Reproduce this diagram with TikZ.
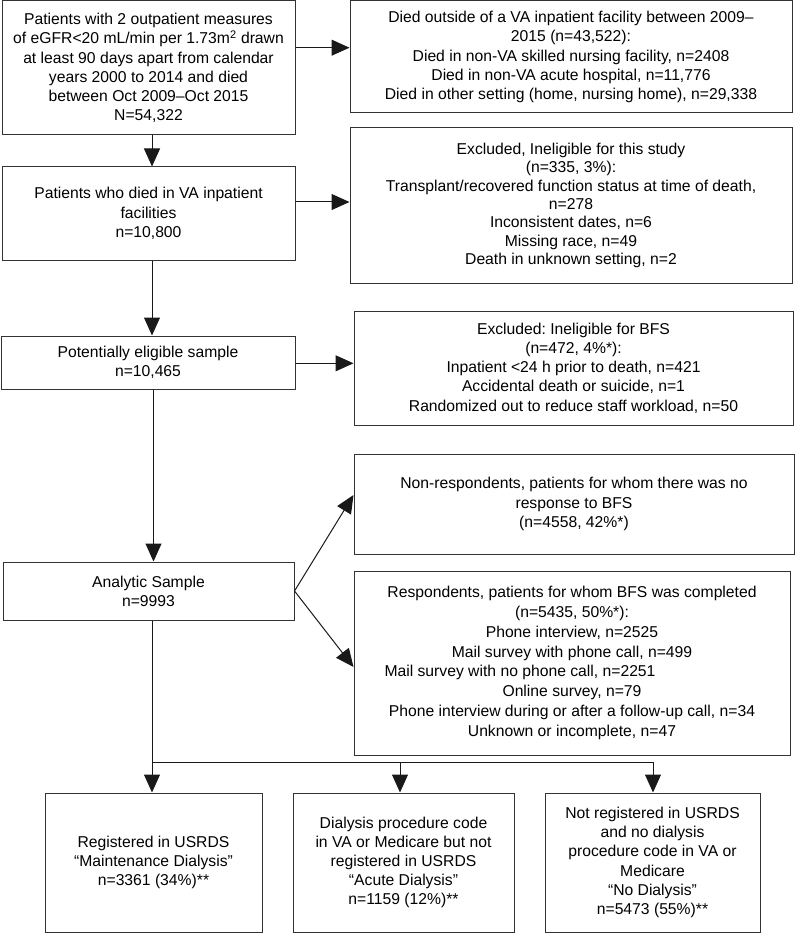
\documentclass[tikz,border=0pt]{standalone}
\usepackage{fontspec}
\setmainfont{Liberation Sans}
\usetikzlibrary{arrows.meta}
\begin{document}
\frenchspacing
\begin{tikzpicture}[x=1pt,y=-1pt,
  box/.style={draw=black!80, line width=1pt, align=center, inner sep=0pt,
    font=\fontsize{15.7}{19.2}\selectfont},
  arr/.style={draw=black!90, line width=1pt, -{Triangle[length=18pt,width=16pt]}},
  ln/.style={draw=black!90, line width=1pt}]
\useasboundingbox (0,0) rectangle (796,933);

\node[box, minimum width=293pt, minimum height=134pt] (A) at (148.5,68)
  {Patients with 2 outpatient measures\\
   of eGFR<20 mL/min per 1.73m\textsuperscript{2} drawn\\
   at least 90 days apart from calendar\\
   years 2000 to 2014 and died\\
   between Oct 2009–Oct 2015\\
   N=54,322};

\node[box, minimum width=442pt, minimum height=112pt] (B) at (571,57)
  {Died outside of a VA inpatient facility between 2009–\\
   2015 (n=43,522):\\
   Died in non-VA skilled nursing facility, n=2408\\
   Died in non-VA acute hospital, n=11,776\\
   Died in other setting (home, nursing home), n=29,338};

\node[box, minimum width=293pt, minimum height=93pt] (C) at (148.5,213.5)
  {Patients who died in VA inpatient\\
   facilities\\
   n=10,800};

\node[box, minimum width=442pt, minimum height=155pt,
      font=\fontsize{15.7}{18.4}\selectfont] (D) at (571,205.5)
  {Excluded, Ineligible for this study\\
   (n=335, 3\%):\\
   Transplant/recovered function status at time of death,\\
   n=278\\
   Inconsistent dates, n=6\\
   Missing race, n=49\\
   Death in unknown setting, n=2};

\node[box, minimum width=294pt, minimum height=53pt] (E) at (148,362.5)
  {Potentially eligible sample\\
   n=10,465};

\node[box, minimum width=439pt, minimum height=114pt] (F) at (573.5,368)
  {Excluded: Ineligible for BFS\\
   (n=472, 4\%*):\\
   Inpatient <24 h prior to death, n=421\\
   Accidental death or suicide, n=1\\
   Randomized out to reduce staff workload, n=50};

\node[box, minimum width=440pt, minimum height=100pt] (G) at (574,504)
  {Non-respondents, patients for whom there was no\\
   response to BFS\\
   (n=4558, 42\%*)};

\node[box, minimum width=291pt, minimum height=58pt] (H) at (148.5,591)
  {Analytic Sample\\
   n=9993};

\node[box, minimum width=436pt, minimum height=184pt,
      font=\fontsize{15.7}{19.8}\selectfont] (I) at (572,663)
  {Respondents, patients for whom BFS was completed\\
   (n=5435, 50\%*):\\
   Phone interview, n=2525\\
   Mail survey with phone call, n=499\\
   \mbox{Mail survey with no phone call, n=2251\hspace{104pt}}\\
   Online survey, n=79\\
   Phone interview during or after a follow-up call, n=34\\
   Unknown or incomplete, n=47};

\node[box, minimum width=217pt, minimum height=139pt] (J1) at (153.5,862.5)
  {Registered in USRDS\\
   “Maintenance Dialysis”\\
   n=3361 (34\%)**};

\node[box, minimum width=221pt, minimum height=139pt] (J2) at (403.5,862.5)
  {Dialysis procedure code\\
   in VA or Medicare but not\\
   registered in USRDS\\
   “Acute Dialysis”\\
   n=1159 (12\%)**};

\node[box, minimum width=215pt, minimum height=139pt] (J3) at (652.5,862.5)
  {Not registered in USRDS\\
   and no dialysis\\
   procedure code in VA or\\
   Medicare\\
   “No Dialysis”\\
   n=5473 (55\%)**};

% helper coordinates
\coordinate (cx) at (152,0);
\coordinate (cx2) at (153.5,0);
\coordinate (r1) at (0,47.7);
\coordinate (r2) at (0,202);
\coordinate (r3) at (0,363.3);
\coordinate (g1) at (0,495);
\coordinate (g2) at (0,667);
\coordinate (s1) at (152,762);
\coordinate (s2) at (400,762);
\coordinate (s3) at (653,762);

% vertical main flow
\draw[arr] (A.south -| cx) -- (C.north -| cx);
\draw[arr] (C.south -| cx) -- (E.north -| cx);
\draw[arr] (E.south -| cx2) -- (H.north -| cx2);

% side arrows
\draw[arr] (A.east |- r1) -- (B.west |- r1);
\draw[arr] (C.east |- r2) -- (D.west |- r2);
\draw[arr] (E.east |- r3) -- (F.west |- r3);
\draw[arr] (H.east) -- (G.west |- g1);
\draw[arr] (H.east) -- (I.west |- g2);

% split to bottom
\draw[ln] (H.south -| cx) -- (s1) -- (s3);
\draw[arr] (s1) -- (J1.north -| s1);
\draw[arr] (s2) -- (J2.north -| s2);
\draw[arr] (s3) -- (J3.north -| s3);
\end{tikzpicture}
\end{document}
